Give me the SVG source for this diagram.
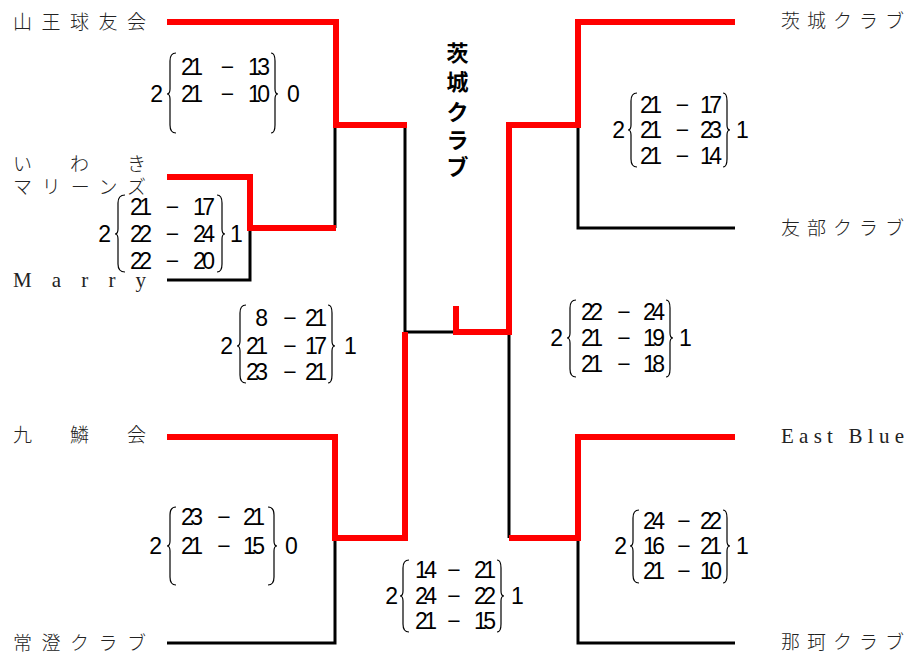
<svg xmlns="http://www.w3.org/2000/svg" width="908" height="655" viewBox="0 0 908 655">
<style>
.r{fill:none;stroke:#f00;stroke-width:6;stroke-linejoin:miter;stroke-linecap:butt}
.k{fill:none;stroke:#000;stroke-width:3;stroke-linejoin:miter;stroke-linecap:butt}
.b{fill:none;stroke:#000;stroke-width:1.2}
.n{font-family:"Noto Sans CJK JP","Noto Sans CJK SC",sans-serif;font-size:19px;font-weight:300;fill:#222}
.e{font-family:"Liberation Serif",serif;font-size:21px;fill:#222}
.s{font-family:"Liberation Sans Narrow","Liberation Sans",Arial,sans-serif;font-size:23px;fill:#000}
.m{text-anchor:middle}
.x{text-anchor:end}
.t{font-family:"Noto Sans CJK JP",sans-serif;font-size:22px;font-weight:bold;text-anchor:middle;fill:#000}
</style>
<rect width="908" height="655" fill="#fff"/>
<g id="connectors">
<path class="k" d="M335,125 V228"/>
<path class="k" d="M167,280 H250 V228"/>
<path class="k" d="M405,125 V332 H456"/>
<path class="k" d="M578,125 V228 H735"/>
<path class="k" d="M335,538 V643 H167"/>
<path class="k" d="M509,332 V538"/>
<path class="k" d="M578,538 V643 H735"/>
<path class="r" d="M167,22 H336 V125 H407"/>
<path class="r" d="M167,177 H250 V228 H336"/>
<path class="r" d="M167,437 H335 V538 H405 V332"/>
<path class="r" d="M456,306 V332 H509 V125 H578 V22 H735"/>
<path class="r" d="M509,538 H578 V437 H735"/>
</g>
<g id="team-sanno"><text class="n" x="13" y="29" textLength="133" lengthAdjust="spacing">山王球友会</text></g>
<g id="team-iwaki"><text class="n" x="13" y="171" textLength="133" lengthAdjust="spacing">いわき</text><text class="n" x="13" y="194" textLength="133" lengthAdjust="spacing">マリーンズ</text></g>
<g id="team-marry"><text class="e" x="13" y="287" textLength="133" lengthAdjust="spacing">Marry</text></g>
<g id="team-kurin"><text class="n" x="13" y="442" textLength="133" lengthAdjust="spacing">九鱗会</text></g>
<g id="team-tsunezumi"><text class="n" x="13" y="650" textLength="133" lengthAdjust="spacing">常澄クラブ</text></g>
<g id="team-ibaraki"><text class="n" x="781" y="28" textLength="123" lengthAdjust="spacing">茨城クラブ</text></g>
<g id="team-tomobe"><text class="n" x="781" y="235" textLength="123" lengthAdjust="spacing">友部クラブ</text></g>
<g id="team-eastblue"><text class="e" x="781" y="443" textLength="123" lengthAdjust="spacing">East Blue</text></g>
<g id="team-naka"><text class="n" x="781" y="649" textLength="123" lengthAdjust="spacing">那珂クラブ</text></g>
<g id="champion"><text class="t"><tspan x="457.5" y="61">茨</tspan><tspan x="457.5" y="89.5">城</tspan><tspan x="457.5" y="119.5">ク</tspan><tspan x="457.5" y="147.5">ラ</tspan><tspan x="457.5" y="175">ブ</tspan></text></g>

<g id="score-1">
<text class="s x" x="163" y="102.3" textLength="11">2</text>
<path class="b" d="M176,53 Q170,53 170,61 V89 Q170,94 167,94 Q170,94 170,99 V125 Q170,133 176,133"/>
<text class="s x" x="203" y="75.3" textLength="22">21</text><text class="s m" x="227.5" y="75.3">−</text><text class="s x" x="270" y="75.3" textLength="22">13</text>
<text class="s x" x="203" y="102.3" textLength="22">21</text><text class="s m" x="227.5" y="102.3">−</text><text class="s x" x="270" y="102.3" textLength="22">10</text>
<path class="b" d="M271,53 Q275,53 275,61 V89 Q275,94 278,94 Q275,94 275,99 V125 Q275,133 271,133"/>
<text class="s" x="287" y="102.3" textLength="11">0</text>
</g>
<g id="score-2">
<text class="s x" x="111" y="242.3" textLength="11">2</text>
<path class="b" d="M125,195 Q118,195 118,203 V229 Q118,234 115,234 Q118,234 118,239 V264 Q118,272 125,272"/>
<text class="s x" x="152" y="215.3" textLength="22">21</text><text class="s m" x="172.5" y="215.3">−</text><text class="s x" x="215" y="215.3" textLength="22">17</text>
<text class="s x" x="152" y="242.3" textLength="22">22</text><text class="s m" x="172.5" y="242.3">−</text><text class="s x" x="215" y="242.3" textLength="22">24</text>
<text class="s x" x="152" y="269.3" textLength="22">22</text><text class="s m" x="172.5" y="269.3">−</text><text class="s x" x="215" y="269.3" textLength="22">20</text>
<path class="b" d="M217,195 Q222,195 222,203 V229 Q222,234 225,234 Q222,234 222,239 V264 Q222,272 217,272"/>
<text class="s" x="230" y="242.3" textLength="11">1</text>
</g>
<g id="score-3">
<text class="s x" x="233" y="354.3" textLength="11">2</text>
<path class="b" d="M246,305 Q240,305 240,313 V341 Q240,346 237,346 Q240,346 240,351 V375 Q240,383 246,383"/>
<text class="s x" x="268" y="326.3" textLength="11">8</text><text class="s m" x="290" y="326.3">−</text><text class="s x" x="327" y="326.3" textLength="22">21</text>
<text class="s x" x="268" y="354.3" textLength="22">21</text><text class="s m" x="290" y="354.3">−</text><text class="s x" x="327" y="354.3" textLength="22">17</text>
<text class="s x" x="268" y="380.3" textLength="22">23</text><text class="s m" x="290" y="380.3">−</text><text class="s x" x="327" y="380.3" textLength="22">21</text>
<path class="b" d="M328,305 Q332,305 332,313 V341 Q332,346 335,346 Q332,346 332,351 V375 Q332,383 328,383"/>
<text class="s" x="344" y="354.3" textLength="11">1</text>
</g>
<g id="score-4">
<text class="s x" x="162" y="554.3" textLength="11">2</text>
<path class="b" d="M176,507 Q170,507 170,515 V541 Q170,546 167,546 Q170,546 170,551 V577 Q170,585 176,585"/>
<text class="s x" x="203" y="525.3" textLength="22">23</text><text class="s m" x="224" y="525.3">−</text><text class="s x" x="265" y="525.3" textLength="22">21</text>
<text class="s x" x="203" y="554.3" textLength="22">21</text><text class="s m" x="224" y="554.3">−</text><text class="s x" x="265" y="554.3" textLength="22">15</text>
<path class="b" d="M268,507 Q274,507 274,515 V541 Q274,546 277,546 Q274,546 274,551 V577 Q274,585 268,585"/>
<text class="s" x="285" y="554.3" textLength="11">0</text>
</g>
<g id="score-5">
<text class="s x" x="398" y="604.3" textLength="11">2</text>
<path class="b" d="M409,560 Q403,560 403,568 V591 Q403,596 400,596 Q403,596 403,601 V624 Q403,632 409,632"/>
<text class="s x" x="437" y="578.3" textLength="22">14</text><text class="s m" x="454" y="578.3">−</text><text class="s x" x="496" y="578.3" textLength="22">21</text>
<text class="s x" x="437" y="604.3" textLength="22">24</text><text class="s m" x="454" y="604.3">−</text><text class="s x" x="496" y="604.3" textLength="22">22</text>
<text class="s x" x="437" y="629.3" textLength="22">21</text><text class="s m" x="454" y="629.3">−</text><text class="s x" x="496" y="629.3" textLength="22">15</text>
<path class="b" d="M497,560 Q501,560 501,568 V591 Q501,596 504,596 Q501,596 501,601 V624 Q501,632 497,632"/>
<text class="s" x="511" y="604.3" textLength="11">1</text>
</g>
<g id="score-6">
<text class="s x" x="563" y="346.3" textLength="11">2</text>
<path class="b" d="M576,300 Q570,300 570,308 V333 Q570,338 567,338 Q570,338 570,343 V369 Q570,377 576,377"/>
<text class="s x" x="603" y="320.3" textLength="22">22</text><text class="s m" x="624" y="320.3">−</text><text class="s x" x="665" y="320.3" textLength="22">24</text>
<text class="s x" x="603" y="346.3" textLength="22">21</text><text class="s m" x="624" y="346.3">−</text><text class="s x" x="665" y="346.3" textLength="22">19</text>
<text class="s x" x="603" y="372.3" textLength="22">21</text><text class="s m" x="624" y="372.3">−</text><text class="s x" x="665" y="372.3" textLength="22">18</text>
<path class="b" d="M666,300 Q670,300 670,308 V333 Q670,338 673,338 Q670,338 670,343 V369 Q670,377 666,377"/>
<text class="s" x="679" y="346.3" textLength="11">1</text>
</g>
<g id="score-7">
<text class="s x" x="625" y="138.3" textLength="11">2</text>
<path class="b" d="M637,93 Q631,93 631,101 V125 Q631,130 628,130 Q631,130 631,135 V159 Q631,167 637,167"/>
<text class="s x" x="662" y="113.3" textLength="22">21</text><text class="s m" x="682.5" y="113.3">−</text><text class="s x" x="722" y="113.3" textLength="22">17</text>
<text class="s x" x="662" y="138.3" textLength="22">21</text><text class="s m" x="682.5" y="138.3">−</text><text class="s x" x="722" y="138.3" textLength="22">23</text>
<text class="s x" x="662" y="164.3" textLength="22">21</text><text class="s m" x="682.5" y="164.3">−</text><text class="s x" x="722" y="164.3" textLength="22">14</text>
<path class="b" d="M723,93 Q727,93 727,101 V125 Q727,130 730,130 Q727,130 727,135 V159 Q727,167 723,167"/>
<text class="s" x="736" y="138.3" textLength="11">1</text>
</g>
<g id="score-8">
<text class="s x" x="627" y="554.3" textLength="11">2</text>
<path class="b" d="M639,510 Q633,510 633,518 V541 Q633,546 630,546 Q633,546 633,551 V575 Q633,583 639,583"/>
<text class="s x" x="665" y="529.3" textLength="22">24</text><text class="s m" x="684" y="529.3">−</text><text class="s x" x="722" y="529.3" textLength="22">22</text>
<text class="s x" x="665" y="554.3" textLength="22">16</text><text class="s m" x="684" y="554.3">−</text><text class="s x" x="722" y="554.3" textLength="22">21</text>
<text class="s x" x="665" y="579.3" textLength="22">21</text><text class="s m" x="684" y="579.3">−</text><text class="s x" x="722" y="579.3" textLength="22">10</text>
<path class="b" d="M723,510 Q727,510 727,518 V541 Q727,546 730,546 Q727,546 727,551 V575 Q727,583 723,583"/>
<text class="s" x="736" y="554.3" textLength="11">1</text>
</g>
</svg>
